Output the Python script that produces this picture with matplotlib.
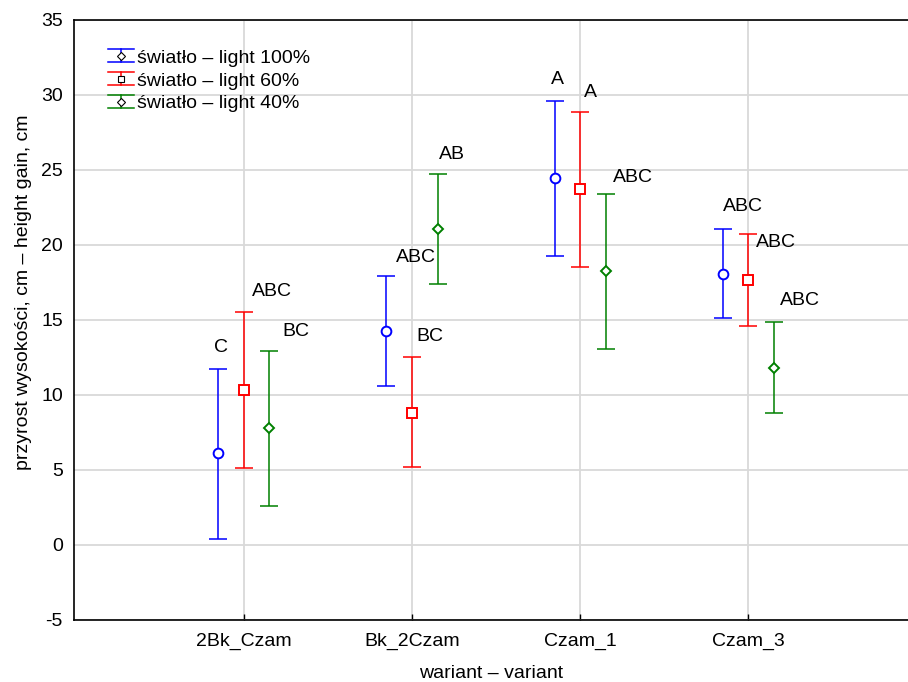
import numpy as np
import matplotlib
matplotlib.use('Agg')
import matplotlib.pyplot as plt
from matplotlib.lines import Line2D
from matplotlib.legend_handler import HandlerBase

plt.rcParams['font.family'] = ['Liberation Sans', 'DejaVu Sans']
plt.rcParams['font.size'] = 14
plt.rcParams['axes.unicode_minus'] = False

# data: mean and upper/lower whisker
warianty = ['2Bk_Czam', 'Bk_2Czam', 'Czam_1', 'Czam_3']
serie = ['światło – light 100%', 'światło – light 60%', 'światło – light 40%']

srednia_100 = [6.13, 14.27, 24.45, 18.07]
gora_100 = [11.73, 17.89, 29.60, 21.07]
dol_100 = [0.40, 10.60, 19.27, 15.13]

srednia_60 = [10.33, 8.82, 23.71, 17.67]
gora_60 = [15.49, 12.49, 28.85, 20.71]
dol_60 = [5.15, 5.18, 18.53, 14.58]

srednia_40 = [7.80, 21.05, 18.22, 11.78]
gora_40 = [12.95, 24.69, 23.40, 14.87]
dol_40 = [2.60, 17.38, 13.05, 8.78]

litery_100 = ['C', 'ABC', 'A', 'ABC']
litery_60 = ['ABC', 'BC', 'A', 'ABC']
litery_40 = ['BC', 'AB', 'ABC', 'ABC']

# styling
kolory = ['#0000ff', '#ff0000', '#008000']
markery = ['o', 's', 'D']
rozmiary = [7, 7.5, 5.5]
przes = [-0.152, 0.0, 0.152]
# label offsets (pixels, relative to top cap)
dx = [[-4, 10, -4, 0], [8, 4, 4, 8], [13, 1, 7, 6]]
dy = [[21, 19, 21, 22], [21, 21, 19, -8], [19, 20, 16, 21]]

srednie = [srednia_100, srednia_60, srednia_40]
gory = [gora_100, gora_60, gora_40]
doly = [dol_100, dol_60, dol_40]
litery = [litery_100, litery_60, litery_40]

fig = plt.figure(figsize=(9.08, 6.82), dpi=100)
ax = fig.add_axes([74/908, 1-620/682, 1-74/908, 600.5/682])

x = np.arange(len(warianty))
for k in range(3):
    m = np.array(srednie[k])
    yerr = [m - np.array(doly[k]), np.array(gory[k]) - m]
    ax.errorbar(x + przes[k], m, yerr=yerr, fmt='none', ecolor=kolory[k],
                elinewidth=1.1, capsize=6.5, capthick=1.1, zorder=3)
    ax.plot(x + przes[k], m, linestyle='none', marker=markery[k], ms=rozmiary[k],
            mfc='white', mec=kolory[k], mew=1.4, zorder=4)
    for i in range(len(warianty)):
        ax.annotate(litery[k][i], xy=(x[i] + przes[k], gory[k][i]),
                    xytext=(dx[k][i], dy[k][i]), textcoords='offset pixels',
                    ha='left', va='center', fontsize=14)


class ErrHandler(HandlerBase):
    def create_artists(self, legend, orig, xdescent, ydescent, width, height, fontsize, trans):
        c = orig.get_color()
        x0, x1 = -xdescent, -xdescent + width
        y0, y1 = -ydescent, -ydescent + height
        xm, ym = (x0 + x1) / 2, (y0 + y1) / 2
        arts = [Line2D([x0, x1], [y1, y1], color=c, lw=1.1),
                Line2D([x0, x1], [y0, y0], color=c, lw=1.1),
                Line2D([xm, xm], [y0, y1], color=c, lw=1.1),
                Line2D([xm], [ym], marker=orig.get_marker(), ms=4, mfc='white',
                       mec='black', mew=0.8, linestyle='none')]
        for a in arts:
            a.set_transform(trans)
        return arts


uchwyty = [Line2D([], [], color=kolory[k], marker=['D', 's', 'D'][k]) for k in range(3)]
ax.legend(uchwyty, serie, handler_map={Line2D: ErrHandler()}, loc='upper left',
          bbox_to_anchor=(0.031, 0.963), frameon=False, handlelength=1.34,
          handleheight=0.65, handletextpad=0.17, labelspacing=0.28,
          borderaxespad=0, fontsize=14)

ax.set_xlim(-1.01, 3.95)
ax.set_ylim(-5, 35)
ax.set_xticks(x)
ax.set_xticklabels(warianty)
ax.set_yticks(np.arange(-5, 36, 5))
ax.grid(True, color='#d9d9d9', lw=1.3)
ax.set_axisbelow(True)
ax.spines['right'].set_visible(False)
for s in ['left', 'bottom', 'top']:
    ax.spines[s].set_linewidth(1.2)
ax.tick_params(axis='x', direction='in', length=4, width=1, pad=9)
ax.tick_params(axis='y', length=0, pad=8)
ax.set_xlabel('wariant – variant', labelpad=11)
ax.set_ylabel('przyrost wysokości, cm – height gain, cm')
ax.yaxis.set_label_coords(-0.05, 0.546)

fig.savefig('out.png', dpi=100)
